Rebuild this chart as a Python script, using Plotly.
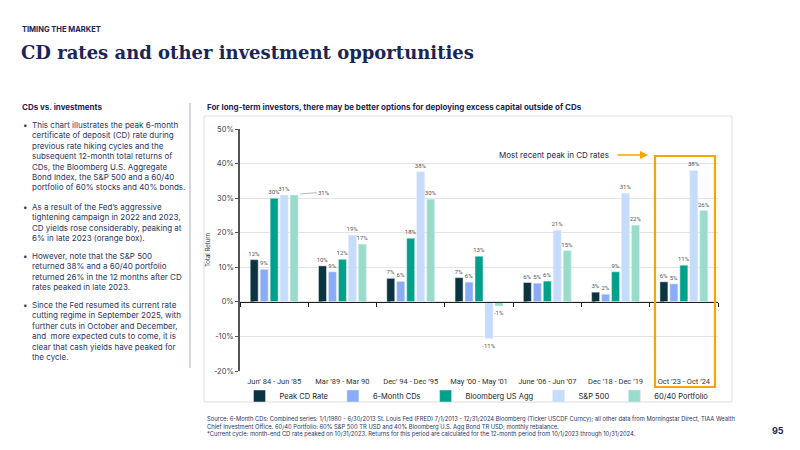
import plotly.graph_objects as go

# %% data
periods = ["Jun’ 84 - Jun ’85", "Mar ’89 - Mar 90", "Dec’ 94 - Dec ’95", "May ’00 - May ’01",
           "June ’06 - Jun ’07", "Dec ’18 - Dec ’19", "Oct ’23 - Oct ’24"]
peak_cd = [12.2, 10.4, 6.8, 7.0, 5.6, 2.8, 5.8]
six_month_cds = [9.4, 8.7, 5.9, 5.7, 5.4, 2.2, 5.2]
bbg_agg = [30.0, 12.3, 18.4, 13.2, 6.0, 8.7, 10.6]
sp500 = [30.9, 19.3, 37.6, -10.6, 20.7, 31.4, 38.0]
portfolio_6040 = [30.9, 16.7, 29.7, -1.2, 14.8, 22.2, 26.4]
y_ticks = [-20, -10, 0, 10, 20, 30, 40, 50]

NAVY = "#1b2657"
TEXT = "#2b3564"
SANS = "Inter, Roboto, sans-serif"
LABEL_FONT = dict(size=6, color="#555555", family="Roboto, sans-serif")

# page body adds an 8px margin, so the figure is 16px smaller than the window
OFF = 8
W, H = 800 - 2 * OFF, 450 - 2 * OFF
# plot area in window pixels: x 240..718, y 129..371
L, R, T, B = 240 - OFF, W - (718 - OFF), 129 - OFF, H - (371 - OFF)
PW, PH = W - L - R, H - T - B


def px(x):
    return (x - OFF - L) / PW


def py(y):
    return (H - B - (y - OFF)) / PH


def labels(vals):
    return [f"{v:.0f}%" for v in vals]


def note(x, y, text, size=8, color=TEXT, xanchor="left", yanchor="middle", **kw):
    fig.add_annotation(xref="paper", yref="paper", x=px(x), y=py(y), text=text,
                       xanchor=xanchor, yanchor=yanchor, showarrow=False, align="left",
                       font=dict(size=size, color=color, **kw))


series = [
    ("Peak CD Rate", peak_cd, "#0c3440"),
    ("6-Month CDs", six_month_cds, "#8aacf6"),
    ("Bloomberg US Agg", bbg_agg, "#00a08a"),
    ("S&P 500", sp500, "#c6dcfc"),
    ("60/40 Portfolio", portfolio_6040, "#98ddcc"),
]

fig = go.Figure()
for name, vals, color in series:
    txt = labels(vals)
    if name == "60/40 Portfolio":
        txt[0] = ""  # drawn with a leader line below
    fig.add_trace(go.Bar(
        x=periods, y=vals, name=name, marker_color=color,
        text=txt, textposition="outside", constraintext="none", cliponaxis=False,
        textfont=LABEL_FONT,
    ))

# axis used only to draw boundary ticks on the zero line
fig.add_trace(go.Bar(x=periods, y=[0] * len(periods), xaxis="x2", showlegend=False,
                     hoverinfo="skip", marker_color="rgba(0,0,0,0)"))

fig.update_layout(
    width=W, height=H,
    margin=dict(l=L, r=R, t=T, b=B, autoexpand=False),
    plot_bgcolor="white", paper_bgcolor="white",
    barmode="group", bargap=0.27, bargroupgap=0.2,
    font=dict(family=SANS, color=TEXT),
    showlegend=True,
    legend=dict(orientation="h", x=-0.001, xanchor="left", y=py(396), yanchor="middle",
                font=dict(size=7.5, color="#222222"), itemwidth=30, traceorder="normal",
                bgcolor="rgba(0,0,0,0)"),
    xaxis=dict(type="category", showgrid=False, showline=False, ticks="",
               tickfont=dict(size=7.5, color="#333333", family="Roboto, sans-serif"),
               ticklabelstandoff=4),
    xaxis2=dict(type="category", overlaying="x", matches="x", anchor="free",
                position=py(302), showticklabels=False, showline=True, linecolor="#222222",
                linewidth=1.2, ticks="outside", ticklen=4, tickcolor="#222222",
                tickson="boundaries", showgrid=False),
    yaxis=dict(range=[-20, 50], tickvals=y_ticks, ticktext=[f"{v}%" for v in y_ticks],
               showgrid=True, gridcolor="#e3e3e3", gridwidth=1, zeroline=False,
               showline=True, linecolor="#555555", linewidth=1.5, ticks="outside",
               ticklen=3, tickcolor="#555555", tickfont=dict(size=7.5, color="#444444"),
               title=dict(text="Total Return", font=dict(size=6, color="#333333"), standoff=3)),
)

# panel frame and left divider
fig.add_shape(type="rect", xref="paper", yref="paper", x0=px(204), x1=px(732),
              y0=py(402), y1=py(116), line=dict(color="#dddddd", width=1), layer="below")
fig.add_shape(type="line", xref="paper", yref="paper", x0=px(190), x1=px(190),
              y0=py(368), y1=py(103), line=dict(color="#c5c9da", width=1.5))

# orange highlight box around the current cycle
fig.add_shape(type="rect", xref="paper", yref="paper", x0=px(655), x1=px(715),
              y0=py(387), y1=py(156), line=dict(color="#f7a600", width=2.2))
note(611, 155, "Most recent peak in CD rates", color=NAVY, xanchor="right")
fig.add_annotation(xref="paper", yref="paper", x=px(648), y=py(155), ax=-32, ay=0,
                   text="", showarrow=True, arrowhead=2,
                   arrowsize=1, arrowwidth=1.6, arrowcolor="#f7a600")

# 60/40 label for first period with leader line
fig.add_annotation(x=periods[0], y=portfolio_6040[0], xshift=26, yshift=1, ax=24, ay=-2,
                   text="31%", showarrow=True, arrowhead=0, arrowwidth=0.6,
                   arrowcolor="#888888", font=LABEL_FONT)

# page text
note(20, 29, "<b>TIMING THE MARKET</b>", size=7.5, color=NAVY)
note(19, 53, "<b>CD rates and other investment opportunities</b>", size=18, color=NAVY,
     family="DejaVu Serif, serif")
note(20, 107, "<b>CDs vs. investments</b>", color=NAVY)
note(205, 107, "<b>For long-term investors, there may be better options for deploying "
     "excess capital outside of CDs</b>", color=NAVY)

bullets = [
    (118, ["This chart illustrates the peak 6-month", "certificate of deposit (CD) rate during",
           "previous rate hiking cycles and the", "subsequent 12-month total returns of",
           "CDs, the Bloomberg U.S. Aggregate", "Bond Index, the S&P 500 and a 60/40",
           "portfolio of 60% stocks and 40% bonds."]),
    (200, ["As a result of the Fed’s aggressive", "tightening campaign in 2022 and 2023,",
           "CD yields rose considerably, peaking at", "6% in late 2023 (orange box)."]),
    (249, ["However, note that the S&P 500", "returned 38% and a 60/40 portfolio",
           "returned 26% in the 12 months after CD", "rates peaked in late 2023."]),
    (298, ["Since the Fed resumed its current rate", "cutting regime in September 2025, with",
           "further cuts in October and December,", "and  more expected cuts to come, it is",
           "clear that cash yields have peaked for", "the cycle."]),
]
for y0, lines in bullets:
    note(21, y0, "•", yanchor="top")
    note(30, y0, "<br>".join(lines), yanchor="top")

footer = ("Source: 6-Month CDs: Combined series: 1/1/1980 - 6/30/2013 St. Louis Fed (FRED) 7/1/2013 - "
          "12/31/2024 Bloomberg (Ticker USCDF Curncy); all other data from Morningstar Direct, TIAA Wealth<br>"
          "Chief Investment Office. 60/40 Portfolio: 60% S&P 500 TR USD and 40% Bloomberg U.S. Agg Bond TR USD; "
          "monthly rebalance.<br>"
          "*Current cycle: month-end CD rate peaked on 10/31/2023. Returns for this period are calculated for "
          "the 12-month period from 10/1/2023 through 10/31/2024.")
note(205, 413, footer, size=5.8, yanchor="top")
note(786, 430, "<b>95</b>", size=9, color=NAVY, xanchor="right")

fig.write_html("out.html")
